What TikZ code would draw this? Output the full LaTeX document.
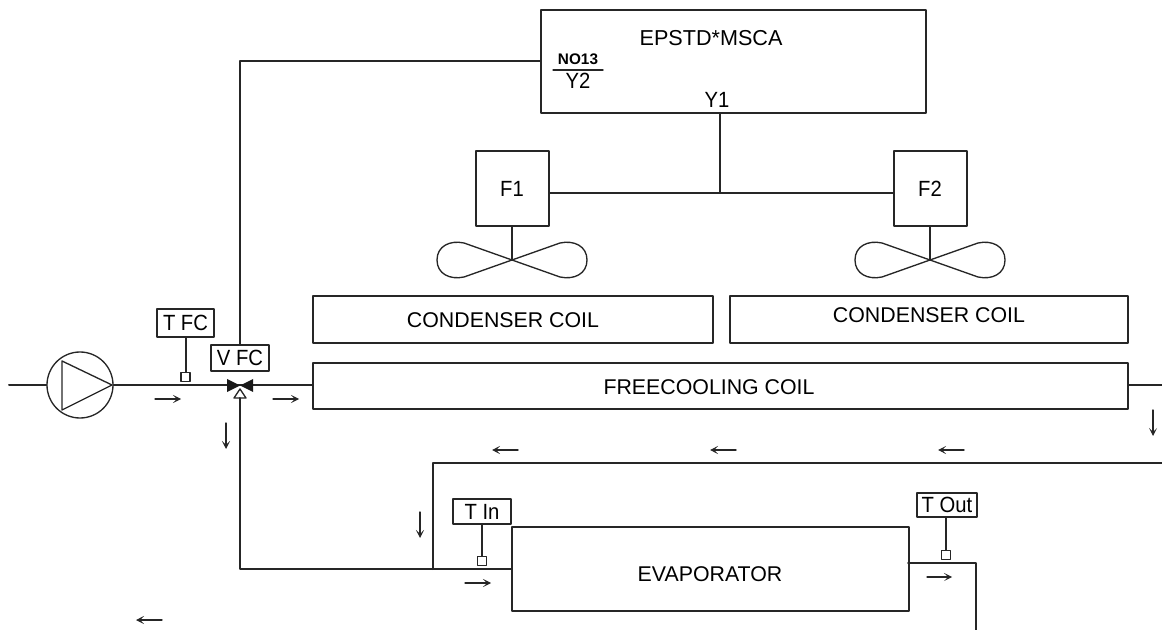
\documentclass[tikz,border=0pt]{standalone}
\usepackage{fontspec}
\setmainfont{Liberation Sans}
\newfontfamily\tagfont[FakeStretch=0.92]{Liberation Sans}
\usetikzlibrary{arrows.meta}

\begin{document}
\begin{tikzpicture}[
  x=0.75pt, y=-0.75pt,
  line cap=round, line join=round,
  >={Stealth[length=6pt,width=6pt,inset=3pt]},
  pipe/.style={draw=black!85, line width=1.5pt},
  flow/.style={->, black!85, line width=1pt},
  unit/.style 2 args={draw=black!85, line width=1.5pt, inner sep=0pt, fill=white,
    minimum width=#1*0.75pt, minimum height=#2*0.75pt},
  tagbox/.style 2 args={draw=black!85, line width=1.3pt, inner sep=0pt, fill=white,
    minimum width=#1*0.75pt, minimum height=#2*0.75pt, font=\tagfont\fontsize{16.5}{18}\selectfont},
  probe/.style={draw=black!85, line width=1.3pt, inner sep=0pt, fill=white, minimum size=6.8pt},
  coiltext/.style={inner sep=0pt, font=\fontsize{16}{18}\selectfont},
  thintext/.style={inner sep=0pt, font=\tagfont\fontsize{16.5}{18}\selectfont}
]
\useasboundingbox (0,0) rectangle (1162,630);

% Controller
\node[unit={385}{103}] (ctrl) at (733.5,61.5) {};
\node[inner sep=0pt, font=\fontsize{16.2}{18}\selectfont] (ctrlname) at (711,38) {EPSTD*MSCA};
\node[inner sep=0pt, font=\bfseries\fontsize{11.5}{13}\selectfont] (no13) at (578,59) {NO13};
\node[thintext] (ytwo) at (578,81) {Y2};
\node[thintext] (yone) at (717,100) {Y1};
\coordinate (barl) at (553,70);
\coordinate (barr) at (603,70);
\draw[pipe, line width=1pt] (barl) -- (barr);

% Fans
\node[unit={73}{75}, font=\tagfont\fontsize{16.5}{18}\selectfont] (fanone) at (512,188.5) {F1};
\node[unit={73}{75}, font=\tagfont\fontsize{16.5}{18}\selectfont] (fantwo) at (930,188.5) {F2};
\foreach \hub/\motor in {512/fanone,930/fantwo} {
  \coordinate (hub\motor) at (\hub,260);
  \draw[pipe] (\motor) -- (hub\motor);
  \draw[pipe, line width=1pt, shift={(\hub,260)}]
    (0,0) -- (-48,-17) .. controls (-62,-20) and (-75,-14) .. (-75,0)
    .. controls (-75,14) and (-62,20) .. (-48,17) -- (48,-17)
    .. controls (62,-20) and (75,-14) .. (75,0)
    .. controls (75,14) and (62,20) .. (48,17) -- (0,0);
}
\coordinate (tee) at (720,193);
\draw[pipe] (fanone.east |- tee) -- (fantwo.west |- tee);
\draw[pipe] (tee) -- (tee |- ctrl.south);

% Coils
\node[unit={400}{47}] (condone) at (513,319.5) {};
\node[coiltext] (condonetxt) at (503,320) {CONDENSER COIL};
\node[unit={398}{47}] (condtwo) at (929,319.5) {};
\node[coiltext] (condtwotxt) at (929,315.5) {CONDENSER COIL};
\node[unit={815}{46}] (fccoil) at (720.5,386) {};
\node[coiltext] (fctxt) at (709,387) {FREECOOLING COIL};
\node[unit={397}{84}] (evap) at (710.5,569) {};
\node[coiltext] (evaptxt) at (710,574) {EVAPORATOR};

% Pump
\coordinate (linein) at (9,385);
\coordinate (valve) at (240,385);
\coordinate (lineout) at (1162,385);
\node[draw=black!85, line width=1pt, circle, minimum size=49.5pt, inner sep=0pt] (pump) at (80,385) {};
\draw[pipe, line width=1pt] (62,361) -- (112,385) -- (62,410) -- cycle;
\draw[pipe] (linein) -- (pump.west);
\draw[pipe] (pump.east) -- (valve) -- (fccoil.west |- valve);
\draw[pipe] (fccoil.east |- valve) -- (lineout);

% Sensors
\node[tagbox={57}{28}] (tfc) at (185.5,323) {T FC};
\node[probe] (tfcp) at (185.5,377) {};
\draw[pipe] (tfc) -- (tfcp);
\node[tagbox={58}{26}] (vfc) at (240,358) {V FC};
\node[tagbox={58}{25}] (tin) at (482,511.5) {T In};
\node[probe] (tinp) at (482,561) {};
\draw[pipe] (tin) -- (tinp);
\node[tagbox={60}{24}] (tout) at (947,505) {T Out};
\node[probe] (toutp) at (946,555) {};
\draw[pipe] (tout.south -| toutp) -- (toutp);

% Three way valve
\fill[black!90] (227,379) -- (253,392) -- (253,379) -- (227,392) -- cycle;
\draw[pipe, line width=1pt, fill=white] (240,389) -- (246,398) -- (234,398) -- cycle;
\coordinate (valvedown) at (240,398);
\draw[pipe] (ctrl.west) -| (vfc.north);
\draw[pipe] (valvedown) |- (evap.west);

% Return and outlet
\coordinate (junction) at (433,569);
\coordinate (returnend) at (1162,463);
\coordinate (evapout) at (908,563);
\coordinate (outend) at (975.5,630);
\draw[pipe] (junction) |- (returnend);
\draw[pipe] (evapout) -| (outend);

% Flow arrows
\foreach \xa/\ya/\xb/\yb in {155/399/181/399, 273/399/299/399, 465/583/491/583, 927/577/952/577,
    518/450/492/450, 736/450/710/450, 964/450/938/450, 162/620/136/620,
    1153/410/1153/436, 226/423/226/449, 420/512/420/538} {
  \draw[flow] (\xa,\ya) -- (\xb,\yb);
}
\end{tikzpicture}
\end{document}
